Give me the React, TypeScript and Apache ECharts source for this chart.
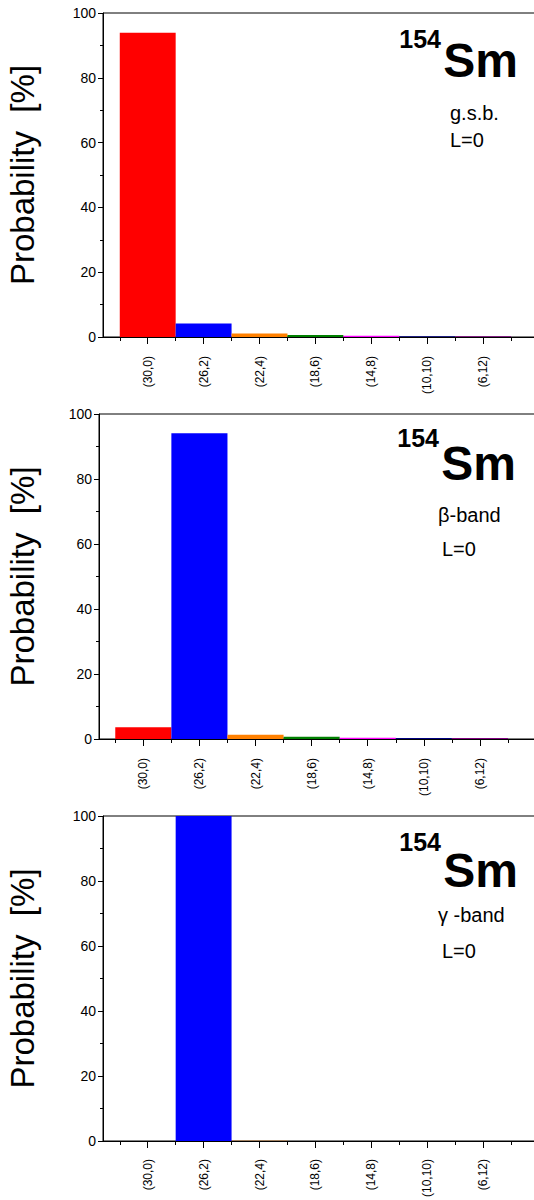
import { useEffect, useRef } from "react";
import * as echarts from "echarts";

const categories = ["(30,0)", "(26,2)", "(22,4)", "(18,6)", "(14,8)", "(10,10)", "(6,12)"];
const gsbValues = [93.9, 4.2, 1.1, 0.6, 0.35, 0.25, 0.25];
const betaValues = [3.6, 94.1, 1.3, 0.7, 0.4, 0.3, 0.3];
const gammaValues = [0, 100, 0.05, 0, 0, 0, 0];
const barColors = ["#ff0000", "#0000ff", "#ff8000", "#008000", "#ff00ff", "#000080", "#800080"];
const bandLabels = ["g.s.b.", "β-band", "γ -band"];
const spinLabel = "L=0";
const nucleusMass = "154";
const nucleusSymbol = "Sm";
const yAxisName = "Probability  [%]";
const yMin = 0;
const yMax = 100;
const yInterval = 20;

const FONT = '"Liberation Sans", Arial, Helvetica, sans-serif';

type PanelLayout = {
  left: number;
  top: number;
  height: number;
  width: number;
  xMin: number;
  unitPx: number;
  nameGap: number;
  labelMargin: number;
  massX: number;
  massY: number;
  symX: number;
  symY: number;
  bandX: number;
  bandY: number;
  spinX: number;
  spinY: number;
};

const layouts: PanelLayout[] = [
  { left: 103, top: 13, height: 324, width: 460, xMin: 0.2, unitPx: 55.9, nameGap: 64, labelMargin: 19,
    massX: 441, massY: 39, symX: 518, symY: 60, bandX: 450, bandY: 113, spinX: 450, spinY: 140 },
  { left: 99, top: 414, height: 325, width: 460, xMin: 0.21, unitPx: 56.1, nameGap: 60, labelMargin: 19,
    massX: 439, massY: 438, symX: 516, symY: 463, bandX: 438, bandY: 515, spinX: 442, spinY: 549 },
  { left: 103, top: 816, height: 325, width: 460, xMin: 0.2, unitPx: 55.9, nameGap: 64, labelMargin: 18,
    massX: 441, massY: 842, symX: 518, symY: 870, bandX: 438, bandY: 915, spinX: 442, spinY: 951 },
];

const panelValues = [gsbValues, betaValues, gammaValues];

export default function App() {
  const ref = useRef<HTMLDivElement>(null);

  useEffect(() => {
    document.body.style.margin = "0";
    if (!ref.current) return;
    const chart = echarts.init(ref.current, undefined, { renderer: "svg" });

    const grids: any[] = [];
    const xAxes: any[] = [];
    const yAxes: any[] = [];
    const series: any[] = [];
    const graphics: any[] = [];

    const majorVals = categories.map((_, i) => i + 1);
    const minorVals = categories.map((_, i) => i + 0.5).concat([categories.length + 0.5]);

    layouts.forEach((L, p) => {
      const xMax = L.xMin + L.width / L.unitPx;
      grids.push({
        left: L.left,
        top: L.top,
        height: L.height,
        width: L.width,
        show: true,
        borderColor: "#000",
        borderWidth: 1,
        containLabel: false,
        outerBoundsMode: "none",
      });
      xAxes.push({
        type: "value",
        gridIndex: p,
        position: "bottom",
        min: L.xMin,
        max: xMax,
        splitLine: { show: false },
        axisLine: { show: true, onZero: false, lineStyle: { color: "#000", width: 1 } },
        axisTick: { show: true, inside: false, length: 7, customValues: majorVals, lineStyle: { color: "#000", width: 1 } },
        axisLabel: {
          show: true,
          customValues: majorVals,
          rotate: 90,
          margin: L.labelMargin,
          fontSize: 12,
          fontFamily: FONT,
          color: "#000",
          formatter: (v: number) => categories[Math.round(v) - 1] ?? "",
        },
      });
      xAxes.push({
        type: "value",
        gridIndex: p,
        position: "bottom",
        min: L.xMin,
        max: xMax,
        splitLine: { show: false },
        axisLine: { show: false },
        axisTick: { show: true, inside: false, length: 4, customValues: minorVals, lineStyle: { color: "#000", width: 1 } },
        axisLabel: { show: false, customValues: minorVals },
      });
      yAxes.push({
        type: "value",
        gridIndex: p,
        min: yMin,
        max: yMax,
        interval: yInterval,
        name: yAxisName,
        nameLocation: "middle",
        nameRotate: 90,
        nameGap: L.nameGap,
        nameTextStyle: { fontSize: 33, fontFamily: FONT, color: "#000" },
        splitLine: { show: false },
        axisLine: { show: true, lineStyle: { color: "#000", width: 1 } },
        axisTick: { show: true, inside: false, length: 5, lineStyle: { color: "#000" } },
        minorTick: { show: true, splitNumber: 2, length: 3, lineStyle: { color: "#000" } },
        axisLabel: { fontSize: 14, fontFamily: FONT, color: "#000", margin: 7 },
      });
      series.push({
        type: "bar",
        xAxisIndex: p * 2,
        yAxisIndex: p,
        barWidth: L.unitPx,
        silent: true,
        data: panelValues[p].map((v, k) => ({
          value: [k + 1, v],
          itemStyle: { color: barColors[k] },
        })),
      });
      graphics.push(
        {
          type: "text",
          x: L.massX,
          y: L.massY,
          style: { text: nucleusMass, fontSize: 25, fontWeight: "bold", fontFamily: FONT, fill: "#000", align: "right", verticalAlign: "middle" },
        },
        {
          type: "text",
          x: L.symX,
          y: L.symY,
          style: { text: nucleusSymbol, fontSize: 48, fontWeight: "bold", fontFamily: FONT, fill: "#000", align: "right", verticalAlign: "middle" },
        },
        {
          type: "text",
          x: L.bandX,
          y: L.bandY,
          style: { text: bandLabels[p], fontSize: 20, fontFamily: FONT, fill: "#000", align: "left", verticalAlign: "middle" },
        },
        {
          type: "text",
          x: L.spinX,
          y: L.spinY,
          style: { text: spinLabel, fontSize: 20, fontFamily: FONT, fill: "#000", align: "left", verticalAlign: "middle" },
        }
      );
    });

    chart.setOption({
      animation: false,
      backgroundColor: "#fff",
      grid: grids,
      xAxis: xAxes,
      yAxis: yAxes,
      series,
      graphic: graphics,
    });

    return () => chart.dispose();
  }, []);

  return <div ref={ref} style={{ width: 534, height: 1200 }} />;
}
